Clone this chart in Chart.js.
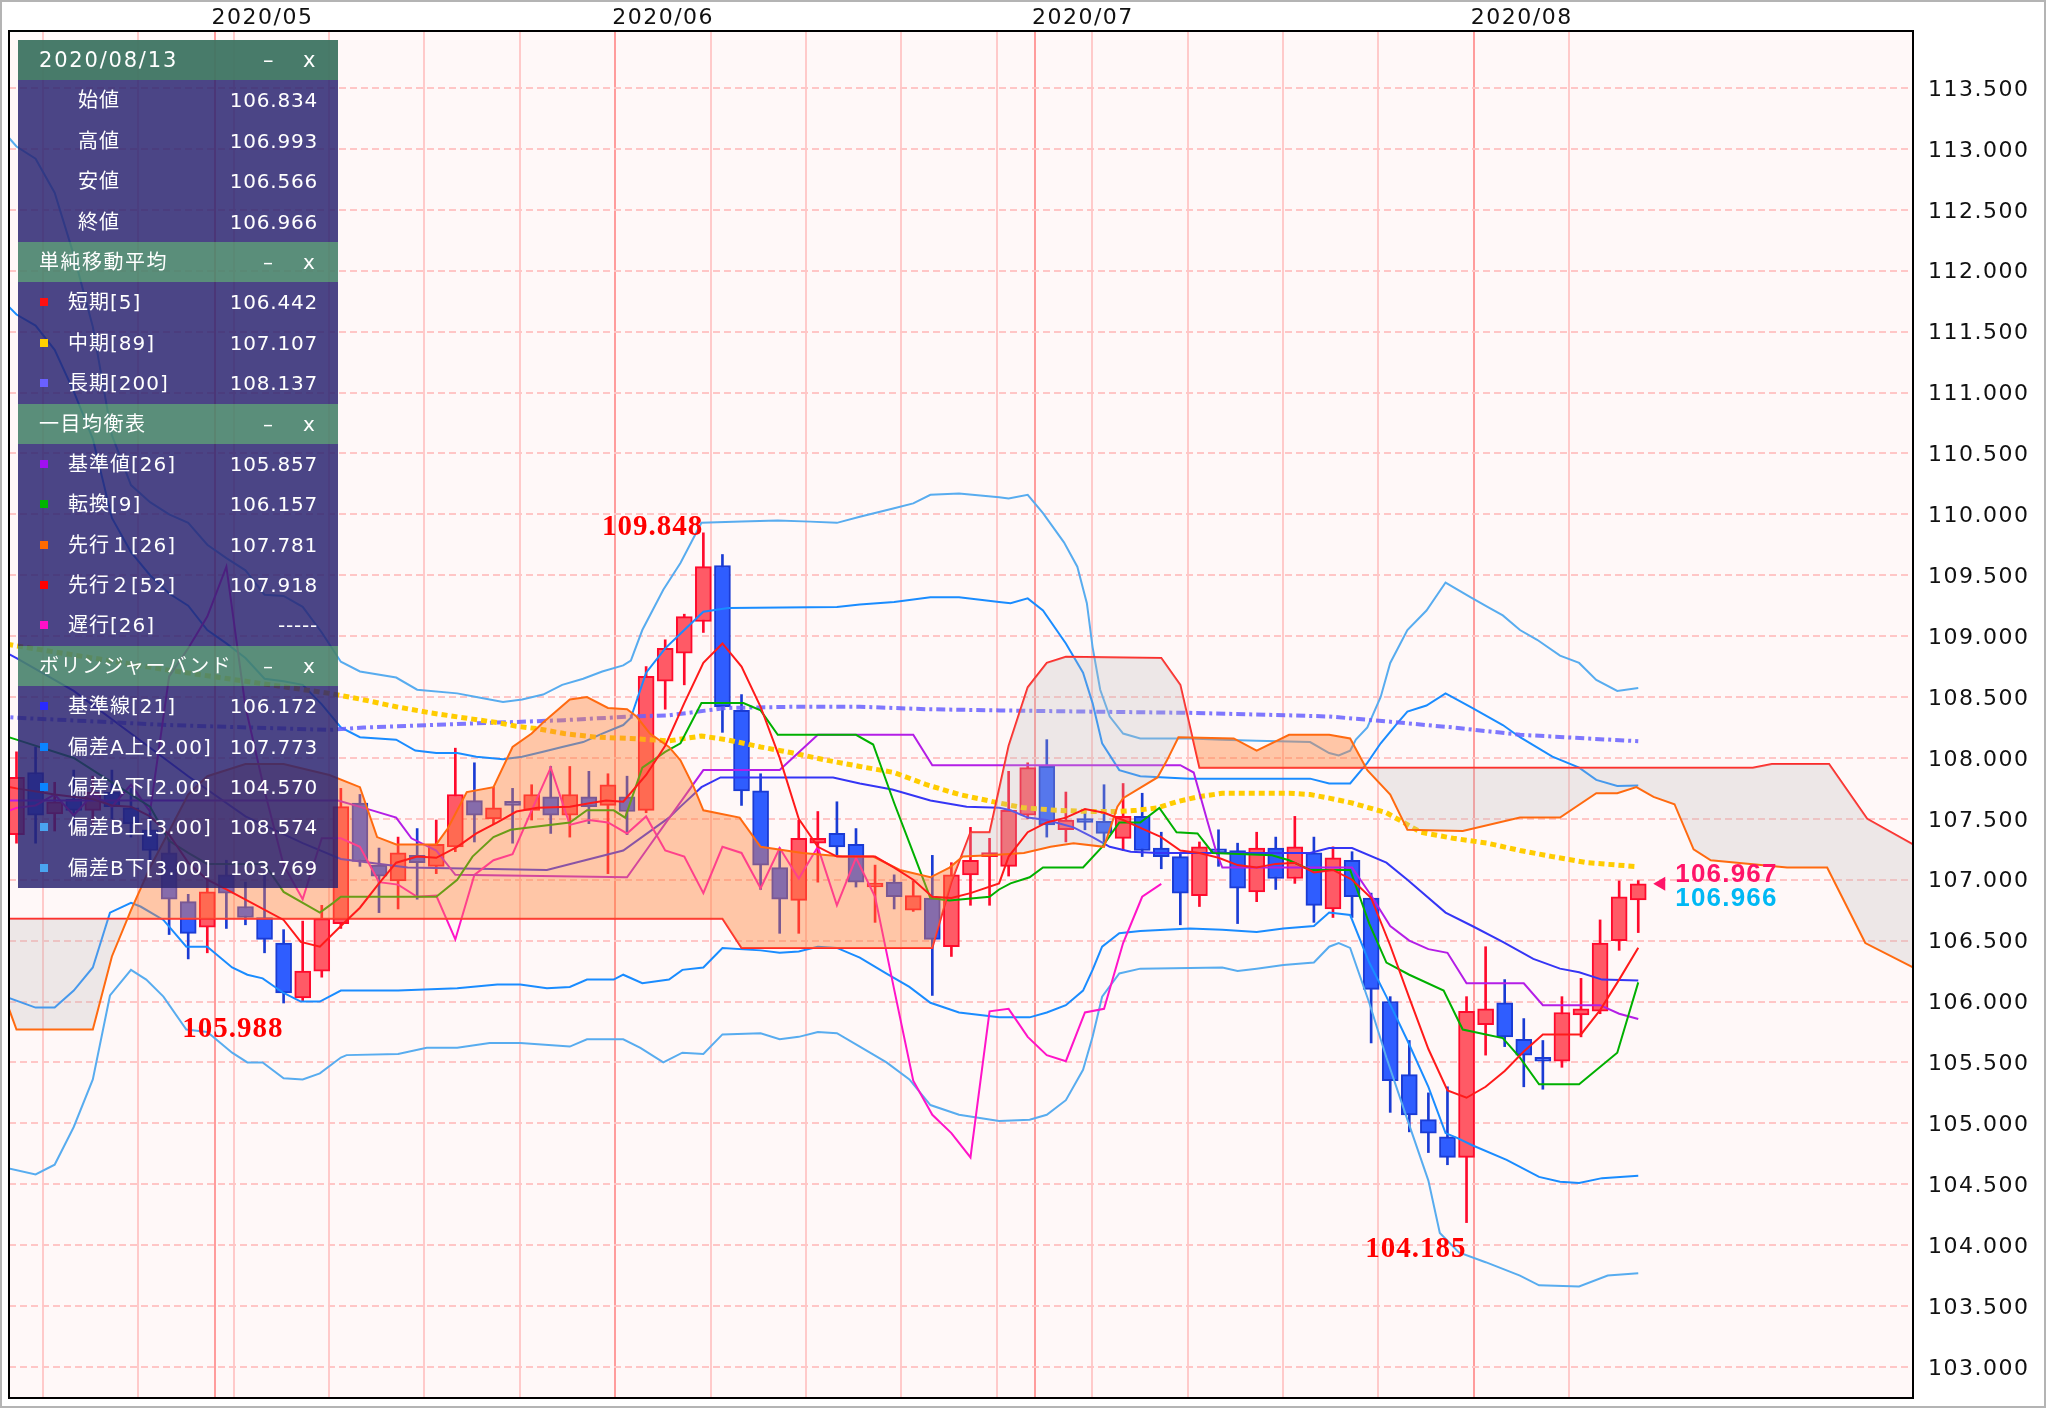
<!DOCTYPE html>
<html>
<head>
<meta charset="utf-8">
<script src="https://cdn.jsdelivr.net/npm/chart.js@4.4.1/dist/chart.umd.min.js"></script>
<style>
  html, body { margin: 0; padding: 0; background: #fff; }
  #wrap { position: relative; width: 2046px; height: 1408px; overflow: hidden; }
  #wrap canvas { position: absolute; left: 0; top: 0; }
  #frame { position: absolute; left: 0; top: 0; width: 2046px; height: 1408px; box-sizing: border-box; border: 2px solid #b4b4b4; pointer-events: none; }
  #panel { position: absolute; left: 18px; top: 40px; width: 320px; color: #fff; font-family: "DejaVu Sans", "Noto Sans CJK JP", sans-serif; }
  .hd { position: relative; height: 40.4px; line-height: 40.4px; padding-left: 21px; box-sizing: border-box; background: rgba(72, 130, 108, 0.9); font-size: 20px; letter-spacing: 1.5px; }
  .hd1 { background: rgba(62, 116, 98, 0.95); font-size: 21px; letter-spacing: 1.8px; }
  .hd .mn { position: absolute; left: 245px; }
  .hd .cl { position: absolute; left: 285px; }
  .row { position: relative; height: 40.4px; line-height: 40.4px; background: rgba(40, 34, 112, 0.84); font-size: 20px; }
  .row .lb { position: absolute; left: 50px; letter-spacing: 1px; }
  .row .lb.o { left: 60px; }
  .row .mk { position: absolute; left: 22px; top: 16px; width: 8px; height: 8px; }
  .row .vl { position: absolute; right: 20px; letter-spacing: 0.8px; }
</style>
</head>
<body>
<div id="wrap">
  <canvas id="chart" width="2046" height="1408"></canvas>
  <div id="panel">
    <div class="hd hd1">2020/08/13<span class="mn">–</span><span class="cl">x</span></div>
    <div class="row"><span class="lb o">始値</span><span class="vl">106.834</span></div>
    <div class="row"><span class="lb o">高値</span><span class="vl">106.993</span></div>
    <div class="row"><span class="lb o">安値</span><span class="vl">106.566</span></div>
    <div class="row"><span class="lb o">終値</span><span class="vl">106.966</span></div>
    <div class="hd">単純移動平均<span class="mn">–</span><span class="cl">x</span></div>
    <div class="row"><i class="mk" style="background:#ff1010"></i><span class="lb">短期[5]</span><span class="vl">106.442</span></div>
    <div class="row"><i class="mk" style="background:#ffd000"></i><span class="lb">中期[89]</span><span class="vl">107.107</span></div>
    <div class="row"><i class="mk" style="background:#6a60ff"></i><span class="lb">長期[200]</span><span class="vl">108.137</span></div>
    <div class="hd">一目均衡表<span class="mn">–</span><span class="cl">x</span></div>
    <div class="row"><i class="mk" style="background:#a010f0"></i><span class="lb">基準値[26]</span><span class="vl">105.857</span></div>
    <div class="row"><i class="mk" style="background:#00b400"></i><span class="lb">転換[9]</span><span class="vl">106.157</span></div>
    <div class="row"><i class="mk" style="background:#ff6a00"></i><span class="lb">先行１[26]</span><span class="vl">107.781</span></div>
    <div class="row"><i class="mk" style="background:#ff0000"></i><span class="lb">先行２[52]</span><span class="vl">107.918</span></div>
    <div class="row"><i class="mk" style="background:#ff10c8"></i><span class="lb">遅行[26]</span><span class="vl">-----</span></div>
    <div class="hd">ボリンジャーバンド<span class="mn">–</span><span class="cl">x</span></div>
    <div class="row"><i class="mk" style="background:#2a2aff"></i><span class="lb">基準線[21]</span><span class="vl">106.172</span></div>
    <div class="row"><i class="mk" style="background:#0a84ff"></i><span class="lb">偏差A上[2.00]</span><span class="vl">107.773</span></div>
    <div class="row"><i class="mk" style="background:#0a84ff"></i><span class="lb">偏差A下[2.00]</span><span class="vl">104.570</span></div>
    <div class="row"><i class="mk" style="background:#4aa4f0"></i><span class="lb">偏差B上[3.00]</span><span class="vl">108.574</span></div>
    <div class="row"><i class="mk" style="background:#4aa4f0"></i><span class="lb">偏差B下[3.00]</span><span class="vl">103.769</span></div>
  </div>
  <div id="frame"></div>
</div>
<script>
// ---- data (x = trading-day index, 0 = 2020/04/16, 85 = 2020/08/13) ----
const monthTicks = [11, 32, 54, 77];
const monthLabels = ["2020/05", "2020/06", "2020/07", "2020/08"];
const weekTicks = [2, 7, 12, 17, 22, 27, 32, 37, 42, 47, 52, 57, 62, 67, 72, 77, 82];
const yTicks = [103.0, 103.5, 104.0, 104.5, 105.0, 105.5, 106.0, 106.5, 107.0, 107.5,
  108.0, 108.5, 109.0, 109.5, 110.0, 110.5, 111.0, 111.5, 112.0, 112.5, 113.0, 113.5];

const opens = [107.37, 107.88, 107.54, 107.66, 107.57, 107.72, 107.59, 107.41, 107.22, 106.82,
  106.61, 107.04, 106.78, 106.69, 106.48, 106.03, 106.25, 106.64, 107.63, 107.12,
  106.99, 107.20, 107.11, 107.27, 107.65, 107.50, 107.62, 107.57, 107.68, 107.53,
  107.68, 107.61, 107.68, 107.57, 108.63, 108.86, 109.12, 109.58, 108.39, 107.73,
  107.10, 106.83, 107.30, 107.38, 107.29, 106.94, 106.98, 106.75, 106.85, 106.45,
  107.04, 107.19, 107.11, 107.53, 107.93, 107.41, 107.49, 107.48, 107.34, 107.52,
  107.26, 107.19, 106.87, 107.25, 107.24, 106.90, 107.26, 107.01, 107.22, 106.76,
  107.16, 106.85, 106.00, 105.40, 105.03, 104.89, 104.72, 105.81, 105.99, 105.69,
  105.54, 105.51, 105.89, 105.92, 106.50, 106.834];
const highs = [108.05, 108.09, 107.80, 107.90, 107.85, 107.90, 107.75, 107.55, 107.33, 106.88,
  107.00, 107.16, 106.98, 107.06, 106.59, 106.66, 106.79, 107.75, 107.70, 107.26,
  107.35, 107.42, 107.49, 108.08, 107.96, 107.76, 107.75, 107.78, 107.93, 107.93,
  107.89, 107.87, 107.85, 108.75, 108.97, 109.18, 109.848, 109.67, 108.52, 107.87,
  107.26, 107.49, 107.56, 107.64, 107.42, 107.12, 107.04, 106.99, 107.20, 107.14,
  107.43, 107.34, 107.89, 107.96, 108.15, 107.72, 107.56, 107.78, 107.79, 107.71,
  107.39, 107.22, 107.31, 107.41, 107.30, 107.39, 107.35, 107.52, 107.35, 107.27,
  107.23, 106.89, 106.04, 105.68, 105.25, 105.30, 106.04, 106.45, 106.18, 105.86,
  105.68, 106.04, 106.19, 106.67, 106.99, 106.993];
const lows = [107.30, 107.30, 107.40, 107.45, 107.45, 107.50, 107.35, 107.15, 106.55, 106.35,
  106.40, 106.60, 106.63, 106.40, 105.988, 106.00, 106.20, 106.60, 107.11, 106.73,
  106.76, 106.84, 107.05, 107.23, 107.31, 107.46, 107.30, 107.49, 107.38, 107.35,
  107.46, 107.05, 107.37, 107.55, 108.40, 108.60, 109.03, 108.21, 107.61, 106.92,
  106.56, 106.56, 106.98, 107.19, 106.94, 106.65, 106.76, 106.74, 106.05, 106.37,
  106.79, 106.79, 107.03, 107.50, 107.35, 107.31, 107.41, 107.31, 107.24, 107.19,
  107.09, 106.63, 106.78, 107.11, 106.64, 106.82, 106.92, 106.97, 106.65, 106.69,
  106.69, 105.66, 105.09, 104.93, 104.76, 104.66, 104.185, 105.56, 105.63, 105.30,
  105.28, 105.46, 105.71, 105.90, 106.42, 106.566];
const closes = [107.84, 107.53, 107.64, 107.57, 107.72, 107.60, 107.46, 107.24, 106.84, 106.56,
  106.90, 106.89, 106.69, 106.51, 106.07, 106.25, 106.68, 107.60, 107.15, 107.03,
  107.22, 107.14, 107.29, 107.70, 107.53, 107.59, 107.61, 107.70, 107.53, 107.70,
  107.60, 107.78, 107.56, 108.67, 108.90, 109.16, 109.57, 108.42, 107.73, 107.12,
  106.84, 107.34, 107.34, 107.27, 106.98, 106.96, 106.86, 106.87, 106.51, 107.04,
  107.16, 107.21, 107.57, 107.92, 107.45, 107.49, 107.47, 107.38, 107.52, 107.24,
  107.19, 106.89, 107.27, 107.22, 106.93, 107.26, 107.01, 107.27, 106.79, 107.18,
  106.86, 106.10, 105.35, 105.07, 104.92, 104.72, 105.92, 105.94, 105.71, 105.56,
  105.51, 105.91, 105.94, 106.48, 106.86, 106.966];

const sma5 = [[-1, 107.78], [0, 107.75], [2, 107.7], [4, 107.66], [5, 107.61], [6, 107.6], [7, 107.52],
  [8, 107.37], [9, 107.14], [10, 107.0], [11, 106.92], [14, 106.67], [14.9, 106.49], [15.9, 106.45],
  [17, 106.62], [18, 106.77], [19, 106.97], [19.9, 107.14], [21, 107.19], [22, 107.18], [23.1, 107.27],
  [24.1, 107.38], [25.2, 107.47], [26.2, 107.56], [27.3, 107.59], [29, 107.60], [30.1, 107.63],
  [30.9, 107.65], [31.8, 107.64], [33, 107.86], [34, 108.1], [35, 108.45], [36, 108.78], [37, 108.94],
  [38, 108.75], [39, 108.42], [40, 108.0], [41, 107.5], [42, 107.27], [43, 107.19], [45, 107.19],
  [46, 107.10], [47, 107.0], [48, 106.86], [49, 106.85], [50, 106.89], [51.5, 106.97], [52, 107.19],
  [53, 107.39], [54, 107.47], [55, 107.51], [56, 107.58], [57, 107.55], [58, 107.49], [59, 107.42],
  [60, 107.35], [61, 107.24], [62, 107.22], [63, 107.18], [64, 107.12], [65, 107.10], [66, 107.13],
  [67, 107.14], [68, 107.06], [69, 107.08], [70, 107.0], [71, 106.85], [72, 106.46], [73, 106.03],
  [74, 105.61], [75, 105.27], [76, 105.21], [77, 105.30], [78, 105.43], [79, 105.59], [80, 105.73],
  [81, 105.73], [82, 105.73], [83, 105.93], [84, 106.18], [85, 106.442]];

const sma89 = [[-1, 108.95], [0, 108.92], [8, 108.72], [16.4, 108.53], [18.1, 108.48], [19.9, 108.42],
  [21.7, 108.37], [23.4, 108.33], [25.2, 108.29], [26.2, 108.26], [27.3, 108.24], [28.7, 108.20],
  [30.4, 108.17], [32.2, 108.16], [34.2, 108.14], [35.9, 108.18], [37.2, 108.15], [39, 108.09],
  [40.7, 108.04], [42.5, 107.98], [44.2, 107.93], [46, 107.88], [47.7, 107.78], [49.4, 107.70],
  [51.5, 107.63], [52.8, 107.59], [54.5, 107.57], [56.3, 107.56], [57.7, 107.56], [58.7, 107.57],
  [59.8, 107.59], [60.8, 107.64], [61.9, 107.68], [63.2, 107.71], [66.7, 107.71], [67.8, 107.70],
  [68.8, 107.67], [70, 107.63], [71.8, 107.55], [73.6, 107.39], [75.3, 107.34], [77.1, 107.30],
  [78.8, 107.24], [80.5, 107.19], [82.3, 107.14], [85, 107.107]];

const sma200 = [[-1, 108.34], [0, 108.33], [8, 108.27], [16.4, 108.23], [18.2, 108.25], [21.7, 108.27],
  [25.2, 108.29], [28.7, 108.31], [32.2, 108.34], [34.2, 108.35], [37.2, 108.41], [40.7, 108.42],
  [44.2, 108.42], [47.7, 108.40], [51.5, 108.39], [56.3, 108.38], [61.5, 108.37], [66.7, 108.35],
  [68.8, 108.34], [71.8, 108.30], [75.3, 108.25], [78.8, 108.19], [82.3, 108.16], [85, 108.137]];

const kijun = [[-1, 107.65], [16.85, 107.65], [18.2, 107.59], [19.9, 107.51], [20.7, 107.34], [22, 107.24],
  [23, 107.04], [32, 107.02], [33, 107.24], [34, 107.46], [35, 107.68], [36, 107.90], [40, 107.90],
  [42, 108.19], [47, 108.19], [48, 107.94], [61, 107.94], [61.7, 107.88], [62.4, 107.49], [62.9, 107.22],
  [63.2, 107.10], [70, 107.10], [71, 106.87], [72, 106.62], [73, 106.50], [74, 106.43], [75, 106.40],
  [76, 106.15], [79, 106.15], [80, 105.97], [83, 105.97], [84, 105.90], [85, 105.857]];

const tenkan = [[-1, 108.2], [0, 108.15], [3, 108.0], [5, 107.8], [7, 107.6], [8, 107.32], [9, 107.22],
  [10, 107.13], [13, 107.13], [14, 106.9], [15.9, 106.73], [16.6, 106.81], [17, 106.86], [22, 106.86],
  [23.1, 107.0], [23.9, 107.19], [25, 107.35], [25.9, 107.41], [29, 107.47], [29.9, 107.57], [31.3, 107.57],
  [31.9, 107.51], [32.8, 107.92], [34, 108.05], [34.8, 108.12], [35.9, 108.45], [38.1, 108.45],
  [39, 108.39], [39.9, 108.19], [44, 108.19], [44.9, 108.11], [46, 107.63], [47, 107.22], [47.9, 106.85],
  [48.9, 106.83], [51, 106.86], [51.5, 106.92], [52.1, 106.97], [53.1, 107.02], [53.8, 107.10],
  [55.9, 107.10], [56.9, 107.27], [57.8, 107.47], [58.9, 107.47], [59.9, 107.59], [60.8, 107.39],
  [61.9, 107.38], [62.7, 107.22], [65.8, 107.20], [66.7, 107.16], [67.8, 107.08], [69.9, 107.08],
  [70.4, 106.86], [70.9, 106.64], [71.8, 106.32], [73, 106.22], [74.8, 106.09], [75.8, 105.77],
  [77.9, 105.70], [78.8, 105.54], [79.8, 105.32], [81.9, 105.32], [83.9, 105.58], [85, 106.157]];

const senkou1 = [[-1, 106.2], [0, 105.77], [4, 105.77], [5, 106.37], [6, 106.75], [7, 107.1], [8, 107.4],
  [9, 107.7], [10, 107.85], [12, 107.95], [14, 107.95], [16.4, 107.86], [18, 107.76], [18.9, 107.35],
  [19.9, 107.29], [22, 107.29], [22.6, 107.42], [23.6, 107.72], [25, 107.76], [26, 108.09], [27, 108.20],
  [27.6, 108.29], [29, 108.48], [29.9, 108.50], [31, 108.41], [32, 108.40], [32.5, 108.34], [33.2, 108.20],
  [34.2, 108.09], [34.8, 107.98], [35.5, 107.76], [36, 107.57], [37.9, 107.51], [39, 107.27],
  [41.2, 107.22], [43.3, 107.19], [44.9, 107.19], [46.3, 107.08], [47.9, 107.02], [48.9, 107.10],
  [49.6, 107.19], [51, 107.20], [52.8, 107.22], [54.2, 107.27], [55.4, 107.30], [57, 107.27],
  [57.7, 107.60], [58, 107.67], [59.8, 107.84], [60.3, 107.98], [60.9, 108.17], [63.8, 108.16],
  [65, 108.06], [66.7, 108.19], [68.8, 108.19], [69.9, 108.16], [70.8, 107.90], [72, 107.70],
  [72.9, 107.41], [75.8, 107.40], [78.8, 107.51], [80.9, 107.51], [82.8, 107.71], [83.9, 107.71],
  [84.9, 107.76], [85.8, 107.68], [86.9, 107.62], [87.9, 107.25], [88.8, 107.16], [92.8, 107.10],
  [94.9, 107.10], [96.9, 106.48], [99.4, 106.28], [101, 106.18]];

const senkou2 = [[-1, 106.68], [37, 106.68], [38, 106.44], [48, 106.44], [49, 106.98], [50, 107.39],
  [51, 107.39], [52, 108.1], [53, 108.58], [54, 108.78], [55, 108.83], [60, 108.82], [61, 108.6],
  [62, 107.92], [91, 107.92], [92, 107.95], [95, 107.95], [97, 107.5], [99.4, 107.29], [101, 107.2]];

const chikouStart = -1;
const chikou = [107.53, 107.59, 107.61, 107.70, 107.53, 107.70, 107.60, 107.78, 107.56, 108.67,
  108.90, 109.16, 109.57, 108.42, 107.73, 107.12, 106.84, 107.34, 107.34, 107.27,
  106.98, 106.96, 106.86, 106.87, 106.51, 107.04, 107.16, 107.21, 107.57, 107.92,
  107.45, 107.49, 107.47, 107.38, 107.52, 107.24, 107.19, 106.89, 107.27, 107.22,
  106.93, 107.26, 107.01, 107.27, 106.79, 107.18, 106.86, 106.10, 105.35, 105.07,
  104.92, 104.72, 105.92, 105.94, 105.71, 105.56, 105.51, 105.91, 105.94, 106.48,
  106.86, 106.966];

const bbMid = [[-1, 108.9], [0, 108.82], [3, 108.55], [6, 108.2], [9, 107.85], [12, 107.52], [15, 107.3],
  [17, 107.17], [20.5, 107.10], [27.8, 107.08], [31.8, 107.24], [34.2, 107.51], [34.8, 107.60],
  [35.9, 107.76], [36.9, 107.84], [42.8, 107.84], [44.2, 107.79], [45.9, 107.74], [47.9, 107.65],
  [49.8, 107.60], [51.5, 107.59], [52.1, 107.57], [53, 107.51], [54, 107.49], [55.4, 107.43],
  [56.4, 107.35], [57.3, 107.27], [58.4, 107.23], [59.8, 107.22], [67.8, 107.22], [68.8, 107.26],
  [70, 107.26], [71.8, 107.14], [72.9, 107.0], [74.9, 106.73], [76.3, 106.62], [77.9, 106.49],
  [79.5, 106.35], [80.9, 106.27], [81.9, 106.24], [83.1, 106.18], [85, 106.172]];

const bbUp2 = [[-1, 111.8], [0, 111.64], [1, 111.55], [2, 111.35], [3, 111.01], [4, 110.62], [5, 109.97],
  [6, 109.69], [7, 109.5], [8, 109.35], [9, 109.25], [10, 109.05], [11, 108.94], [12, 108.82],
  [13, 108.65], [14, 108.63], [15, 108.6], [16, 108.44], [17, 108.25], [18, 108.17], [19.9, 108.15],
  [20.9, 108.06], [22, 108.04], [23.1, 108.04], [24.1, 108.01], [25.5, 107.99], [26.5, 108.01],
  [27.6, 108.05], [28.6, 108.09], [29.7, 108.13], [30.7, 108.20], [31.8, 108.27], [32.2, 108.33],
  [33, 108.7], [34, 108.9], [35, 109.05], [36, 109.2], [37.3, 109.23], [43, 109.24], [44.2, 109.26],
  [46, 109.28], [47.9, 109.32], [49.4, 109.32], [51.5, 109.28], [52.1, 109.27], [53, 109.31],
  [53.8, 109.21], [55, 108.94], [55.9, 108.70], [56.4, 108.45], [56.9, 108.12], [57.8, 107.90],
  [58.9, 107.85], [61.5, 107.83], [67.8, 107.83], [68.8, 107.79], [69.9, 107.79], [70.8, 107.96],
  [71.5, 108.12], [72.4, 108.29], [72.9, 108.38], [73.9, 108.43], [74.9, 108.53], [76.2, 108.42],
  [77.9, 108.27], [78.8, 108.17], [80.5, 108.01], [81.9, 107.92], [82.8, 107.82], [83.9, 107.77],
  [85, 107.773]];

const bbDn2 = [[-1, 106.0], [-0.4, 106.03], [1, 105.95], [2, 105.95], [3, 106.09], [4, 106.28],
  [4.9, 106.73], [6, 106.81], [6.5, 106.78], [7.7, 106.67], [8.9, 106.45], [10, 106.45], [11.3, 106.28],
  [12.1, 106.22], [12.9, 106.19], [14, 106.07], [14.9, 106.0], [15.9, 106.0], [17, 106.09], [20, 106.09],
  [23.1, 106.11], [25.2, 106.14], [26.4, 106.14], [27.8, 106.11], [29, 106.12], [29.9, 106.18],
  [31.3, 106.18], [31.8, 106.22], [32.8, 106.15], [34.2, 106.18], [34.9, 106.26], [36, 106.28],
  [37, 106.44], [39, 106.42], [40, 106.40], [41, 106.41], [42, 106.45], [43, 106.44], [44.2, 106.36],
  [45.6, 106.23], [46.8, 106.12], [47.9, 105.99], [49.4, 105.91], [51.5, 105.87], [53.1, 105.87],
  [54, 105.91], [55, 105.97], [55.9, 106.09], [56.4, 106.26], [56.9, 106.45], [57.8, 106.56],
  [58.9, 106.58], [61.5, 106.60], [63.2, 106.59], [65, 106.57], [66.4, 106.60], [68, 106.62],
  [68.8, 106.73], [69.9, 106.71], [70.9, 106.32], [71.8, 106.04], [72.9, 105.68], [74, 105.30],
  [74.9, 104.92], [75.5, 104.88], [76.3, 104.82], [78.1, 104.70], [79.8, 104.56], [80.9, 104.52],
  [81.9, 104.51], [83.1, 104.55], [85, 104.570]];

const bbUp3 = [[-1, 113.2], [0, 113.02], [1, 112.92], [2, 112.64], [3, 112.13], [4, 111.54], [5, 110.65],
  [6, 110.24], [7, 110.1], [8, 110.0], [9, 109.93], [10, 109.75], [11, 109.64], [12, 109.54],
  [13, 109.34], [14, 109.33], [15, 109.24], [16, 109.03], [17, 108.79], [18, 108.71], [19.9, 108.66],
  [21, 108.56], [23.1, 108.53], [24.1, 108.50], [25.5, 108.46], [26.5, 108.48], [27.6, 108.52],
  [28.6, 108.60], [29.7, 108.65], [30.7, 108.71], [31.8, 108.76], [32.2, 108.80], [32.8, 109.05],
  [33.9, 109.38], [34.8, 109.60], [35.9, 109.93], [38, 109.94], [39.9, 109.95], [41.6, 109.94],
  [43, 109.93], [44.2, 109.98], [46, 110.05], [47, 110.09], [47.9, 110.16], [49.4, 110.17],
  [51.5, 110.14], [52, 110.13], [53, 110.16], [53.8, 110.01], [54.9, 109.77], [55.6, 109.57],
  [56.1, 109.27], [56.4, 108.91], [56.8, 108.56], [57.3, 108.34], [58, 108.20], [58.9, 108.16],
  [61.5, 108.16], [63.2, 108.15], [65, 108.14], [67.8, 108.13], [68.8, 108.04], [69.3, 108.02],
  [69.9, 108.06], [70.2, 108.15], [70.8, 108.25], [71.5, 108.50], [72, 108.78], [72.9, 109.05],
  [73.9, 109.21], [74.9, 109.44], [76.2, 109.32], [77.1, 109.24], [77.9, 109.17], [78.8, 109.05],
  [79.7, 108.97], [80.9, 108.84], [81.9, 108.78], [82.8, 108.64], [83.9, 108.55], [85, 108.574]];

const bbDn3 = [[-1, 104.6], [-0.4, 104.63], [1, 104.58], [2, 104.66], [3, 104.97], [4, 105.36],
  [4.9, 106.05], [6, 106.26], [6.8, 106.18], [7.7, 106.04], [8.9, 105.77], [10, 105.75], [11.3, 105.58],
  [12.1, 105.50], [12.9, 105.50], [14, 105.37], [15, 105.36], [15.9, 105.41], [17, 105.54],
  [17.3, 105.56], [20, 105.57], [21.5, 105.62], [23.1, 105.62], [24.8, 105.66], [26.4, 105.66],
  [29, 105.63], [29.9, 105.69], [31.8, 105.69], [32.7, 105.62], [33.9, 105.50], [34.9, 105.58],
  [36, 105.57], [37, 105.73], [39, 105.74], [40, 105.69], [41, 105.71], [42, 105.75], [43, 105.74],
  [44.2, 105.63], [45.6, 105.50], [46.8, 105.36], [47.9, 105.15], [49.4, 105.07], [51.5, 105.02],
  [53.1, 105.03], [54, 105.07], [55, 105.19], [55.9, 105.44], [56.4, 105.71], [56.9, 106.04],
  [57.8, 106.23], [58.9, 106.27], [63.2, 106.28], [64, 106.25], [65, 106.27], [66.4, 106.30],
  [68, 106.32], [68.8, 106.45], [69.3, 106.48], [69.9, 106.44], [70.9, 105.99], [71.8, 105.54],
  [72.9, 105.03], [74, 104.53], [74.6, 104.10], [75.6, 103.94], [77, 103.86], [78.8, 103.75],
  [79.8, 103.67], [81.9, 103.66], [83.4, 103.75], [85, 103.769]];

// marked extremes and the last price tag
const extremeMarks = [[36, 109.848, "high"], [14, 105.988, "low"], [76, 104.185, "low"]];
const lastAsk = 106.967;
const lastBid = 106.966;

// ---- styles ----
const UP_FILL = "#ff5a66", UP_LINE = "#ff0a2c";
const DN_FILL = "#2f5dff", DN_LINE = "#1a3bd4";
const PLOT_BG = "#fff8f8";
const SLOT_EDGE = 0.62;
const AXIS_FONT = { family: "'DejaVu Sans', sans-serif", size: 22 };

const gridTicks = weekTicks.concat(monthTicks).filter((v, i, a) => a.indexOf(v) === i)
  .sort((a, b) => a - b).map(v => v - SLOT_EDGE);
const monthAt = v => monthTicks.findIndex(m => Math.abs(m - SLOT_EDGE - v) < 1e-6);

function line(pts, color, width, order, extra) {
  return Object.assign({
    type: "line",
    data: pts.map(p => ({ x: p[0], y: p[1] })),
    borderColor: color,
    borderWidth: width,
    pointRadius: 0,
    tension: 0,
    fill: false,
    order
  }, extra || {});
}

const isUp = i => closes[i] >= opens[i];

const datasets = [
  line(senkou2, "#ff2a2a", 2, 3),
  line(senkou1, "#ff6a10", 2, 2, {
    fill: { target: 0, above: "rgba(255,128,56,0.42)", below: "rgba(190,188,188,0.28)" }
  }),
  line(sma5, "#ff1a1a", 2, 1),
  line(tenkan, "#00b000", 2, 6),
  line(kijun, "#b41ee6", 2, 6),
  line(chikou.map((v, i) => [chikouStart + i, v]), "#ff14c8", 2, 6),
  line(sma89, "#ffcc00", 5, 7, { borderDash: [6, 4] }),
  line(sma200, "rgba(104,96,255,0.85)", 4, 7, { borderDash: [9, 4, 3, 4] }),
  line(bbMid, "#3535f5", 2, 8),
  line(bbUp2, "#1a8cff", 2, 8),
  line(bbDn2, "#1a8cff", 2, 8),
  line(bbUp3, "#58acef", 2, 8),
  line(bbDn3, "#58acef", 2, 8),
  {
    type: "bar",
    data: opens.map((o, i) => ({ x: i, y: [lows[i], highs[i]] })),
    backgroundColor: c => isUp(c.dataIndex) ? UP_LINE : DN_LINE,
    borderWidth: 0,
    barThickness: 2,
    grouped: false,
    order: 20
  },
  {
    type: "bar",
    data: opens.map((o, i) => ({ x: i, y: [o, closes[i]] })),
    backgroundColor: c => isUp(c.dataIndex) ? UP_FILL : DN_FILL,
    borderColor: c => isUp(c.dataIndex) ? UP_LINE : DN_LINE,
    borderWidth: 2,
    borderSkipped: false,
    minBarLength: 4,
    barThickness: 16,
    grouped: false,
    order: 19
  }
];

const decor = {
  id: "decor",
  beforeDraw(chart) {
    const { ctx, chartArea: a } = chart;
    ctx.save();
    ctx.fillStyle = PLOT_BG;
    ctx.fillRect(a.left, a.top, a.width, a.height);
    ctx.restore();
    ctx.letterSpacing = "1.5px";
  },
  afterDraw(chart) {
    const { ctx, chartArea: a, scales: { x, y } } = chart;
    ctx.save();
    ctx.beginPath();
    ctx.rect(a.left, a.top, a.width, a.height);
    ctx.clip();

    ctx.fillStyle = "#ff0000";
    ctx.font = "bold 29px 'Liberation Serif', serif";
    ctx.letterSpacing = "1px";
    ctx.textAlign = "right";
    ctx.textBaseline = "alphabetic";
    extremeMarks.forEach(([i, v, kind]) => {
      const px = x.getPixelForValue(i);
      const py = y.getPixelForValue(v);
      ctx.fillText(v.toFixed(3), px, kind === "high" ? py + 2 : py + 34);
    });

    const lx = x.getPixelForValue(closes.length - 1);
    const ly = y.getPixelForValue(closes[closes.length - 1]);
    ctx.fillStyle = "#ff1468";
    ctx.beginPath();
    ctx.moveTo(lx + 15, ly);
    ctx.lineTo(lx + 27, ly - 7);
    ctx.lineTo(lx + 27, ly + 7);
    ctx.closePath();
    ctx.fill();

    ctx.font = "bold 26px 'Liberation Sans', sans-serif";
    ctx.letterSpacing = "1.2px";
    ctx.textAlign = "left";
    ctx.fillStyle = "#ff1468";
    ctx.fillText(lastAsk.toFixed(3), lx + 37, ly - 2);
    ctx.fillStyle = "#00b8f4";
    ctx.fillText(lastBid.toFixed(3), lx + 37, ly + 22);
    ctx.restore();

    ctx.save();
    ctx.strokeStyle = "#000";
    ctx.lineWidth = 2;
    ctx.strokeRect(a.left, a.top, a.width, a.height);
    ctx.restore();
  }
};

new Chart(document.getElementById("chart"), {
  type: "bar",
  data: { datasets },
  plugins: [decor],
  options: {
    responsive: false,
    animation: false,
    devicePixelRatio: 1,
    layout: { padding: { left: 9, right: 0, top: 0, bottom: 10 } },
    plugins: { legend: { display: false }, tooltip: { enabled: false } },
    scales: {
      x: {
        type: "linear",
        position: "top",
        offset: false,
        min: -0.393,
        max: 99.4,
        afterBuildTicks: s => { s.ticks = gridTicks.map(v => ({ value: v })); },
        afterFit: s => { s.height = 31; s.paddingLeft = 0; s.paddingRight = 0; },
        grid: {
          offset: false,
          color: c => (c.tick && monthAt(c.tick.value) >= 0) ? "#ff9c9c" : "#ffcaca",
          lineWidth: 2,
          drawTicks: false
        },
        border: { display: false },
        ticks: {
          autoSkip: false,
          maxRotation: 0,
          align: "start",
          labelOffset: -3,
          padding: 0,
          color: "#111",
          font: AXIS_FONT,
          callback: v => { const k = monthAt(v); return k >= 0 ? monthLabels[k] : ""; }
        }
      },
      y: {
        position: "right",
        min: 102.745,
        max: 113.968,
        afterBuildTicks: s => { s.ticks = yTicks.map(v => ({ value: v })); },
        afterFit: s => { s.width = 133; s.paddingTop = 0; s.paddingBottom = 0; },
        grid: { color: "#ffc6c6", lineWidth: 2, drawTicks: false },
        border: { display: false, dash: [7, 4] },
        ticks: {
          padding: 15,
          labelOffset: 2,
          color: "#111",
          font: AXIS_FONT,
          callback: v => Number(v).toFixed(3)
        }
      }
    }
  }
});
</script>
</body>
</html>
